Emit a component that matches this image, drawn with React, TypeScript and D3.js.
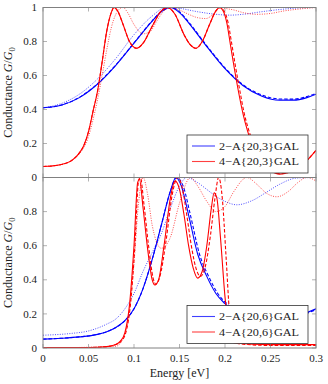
import React from 'react'
import { scaleLinear, line, curveMonotoneX } from 'd3'

type Pt = [number, number]

// energy ticks and conductance ticks
const xTicks = [0, 0.05, 0.1, 0.15, 0.2, 0.25, 0.3]
const xTickLabels = ['0', '0.05', '0.1', '0.15', '0.2', '0.25', '0.3']
const yTicks = [0, 0.2, 0.4, 0.6, 0.8, 1]
const yTickLabels = ['0', '0.2', '0.4', '0.6', '0.8', '1']

const legendTop = ['2\u2212A{20,3}GAL', '4\u2212A{20,3}GAL']
const legendBottom = ['2\u2212A{20,6}GAL', '4\u2212A{20,6}GAL']

// ---- top panel: {20,3}
const topBlueSolid: Pt[] = [
  [0, 0.41], [0.02, 0.425], [0.04, 0.47], [0.06, 0.55], [0.08, 0.66], [0.1, 0.79],
  [0.12, 0.92], [0.13, 0.975], [0.14, 1.0], [0.15, 0.97], [0.16, 0.91], [0.18, 0.77],
  [0.2, 0.64], [0.22, 0.54], [0.24, 0.48], [0.26, 0.455], [0.275, 0.455], [0.29, 0.47], [0.3, 0.49],
]
const topBlueDashed: Pt[] = [
  [0, 0.41], [0.02, 0.426], [0.04, 0.472], [0.06, 0.552], [0.08, 0.662], [0.1, 0.792],
  [0.12, 0.922], [0.13, 0.977], [0.141, 1.0], [0.15, 0.975], [0.16, 0.915], [0.18, 0.775],
  [0.2, 0.645], [0.22, 0.545], [0.24, 0.486], [0.26, 0.462], [0.275, 0.461], [0.29, 0.476], [0.3, 0.495],
]
const topBlueDotted: Pt[] = [
  [0, 0.41], [0.02, 0.435], [0.04, 0.49], [0.06, 0.58], [0.08, 0.7], [0.1, 0.84],
  [0.12, 0.95], [0.135, 1.0], [0.15, 0.995], [0.17, 0.975], [0.19, 0.96], [0.205, 0.955],
  [0.22, 0.96], [0.24, 0.975], [0.26, 0.988], [0.28, 0.997], [0.3, 1.0],
]
const topRedSolid: Pt[] = [
  [0, 0.065], [0.01, 0.068], [0.02, 0.076], [0.03, 0.095], [0.035, 0.115], [0.04, 0.145],
  [0.045, 0.19], [0.05, 0.27], [0.055, 0.39], [0.06, 0.51], [0.065, 0.68], [0.07, 0.86],
  [0.075, 0.97], [0.078, 1.0], [0.082, 0.98], [0.088, 0.9], [0.095, 0.8], [0.103, 0.76],
  [0.11, 0.79], [0.12, 0.89], [0.13, 0.98], [0.137, 1.0], [0.145, 0.96], [0.155, 0.84],
  [0.162, 0.78], [0.168, 0.76], [0.175, 0.8], [0.183, 0.9], [0.19, 0.98], [0.194, 1.0],
  [0.198, 0.98], [0.202, 0.91], [0.206, 0.78], [0.21, 0.65], [0.215, 0.5], [0.22, 0.37],
  [0.225, 0.27], [0.23, 0.19], [0.235, 0.13], [0.24, 0.09], [0.25, 0.04], [0.26, 0.02],
  [0.27, 0.03], [0.28, 0.055], [0.29, 0.1], [0.3, 0.16],
]
const topRedDashed: Pt[] = [
  [0, 0.065], [0.01, 0.068], [0.02, 0.076], [0.03, 0.095], [0.035, 0.115], [0.04, 0.145],
  [0.045, 0.19], [0.05, 0.27], [0.055, 0.39], [0.06, 0.51], [0.065, 0.68], [0.07, 0.86],
  [0.075, 0.97], [0.078, 1.0], [0.082, 0.98], [0.088, 0.9], [0.095, 0.8], [0.103, 0.76],
  [0.11, 0.79], [0.12, 0.89], [0.13, 0.98], [0.137, 1.0], [0.145, 0.96], [0.155, 0.84],
  [0.162, 0.78], [0.168, 0.76], [0.175, 0.8], [0.183, 0.9], [0.19, 0.98], [0.195, 1.0],
  [0.199, 0.98], [0.203, 0.92], [0.207, 0.8], [0.211, 0.67], [0.216, 0.52], [0.221, 0.38],
  [0.226, 0.28], [0.231, 0.2], [0.236, 0.135], [0.241, 0.095], [0.251, 0.042], [0.261, 0.022],
  [0.271, 0.032], [0.281, 0.058], [0.291, 0.105], [0.3, 0.16],
]
const topRedDotted: Pt[] = [
  [0, 0.065], [0.02, 0.076], [0.04, 0.14], [0.05, 0.24], [0.055, 0.34], [0.06, 0.46],
  [0.065, 0.6], [0.07, 0.75], [0.075, 0.88], [0.08, 0.96], [0.085, 0.995], [0.088, 1.0],
  [0.093, 0.97], [0.1, 0.9], [0.11, 0.845], [0.118, 0.86], [0.125, 0.92], [0.133, 0.98],
  [0.14, 1.0], [0.15, 0.985], [0.16, 0.96], [0.17, 0.94], [0.179, 0.935], [0.187, 0.96],
  [0.195, 1.0], [0.2, 0.995], [0.21, 0.985], [0.22, 0.97], [0.235, 0.96], [0.25, 0.965],
  [0.265, 0.98], [0.28, 0.99], [0.3, 1.0],
]

// ---- bottom panel: {20,6}
const botBlueSolid: Pt[] = [
  [0, 0.052], [0.02, 0.057], [0.04, 0.065], [0.06, 0.08], [0.07, 0.095], [0.08, 0.12],
  [0.09, 0.16], [0.1, 0.23], [0.11, 0.35], [0.12, 0.52], [0.13, 0.72], [0.14, 0.92],
  [0.146, 1.0], [0.152, 0.95], [0.16, 0.78], [0.17, 0.55], [0.18, 0.42], [0.19, 0.32],
  [0.2, 0.26], [0.21, 0.215], [0.22, 0.185], [0.24, 0.165], [0.26, 0.17], [0.28, 0.19], [0.3, 0.23],
]
const botBlueDashed: Pt[] = [
  [0, 0.052], [0.02, 0.057], [0.04, 0.065], [0.06, 0.08], [0.07, 0.095], [0.08, 0.12],
  [0.09, 0.16], [0.1, 0.23], [0.11, 0.35], [0.12, 0.52], [0.13, 0.72], [0.14, 0.92],
  [0.147, 1.0], [0.154, 0.95], [0.162, 0.78], [0.172, 0.55], [0.182, 0.42], [0.192, 0.32],
  [0.202, 0.26], [0.212, 0.215], [0.222, 0.185], [0.242, 0.165], [0.262, 0.17], [0.282, 0.19], [0.3, 0.225],
]
const botBlueDotted: Pt[] = [
  [0, 0.075], [0.03, 0.085], [0.05, 0.1], [0.07, 0.14], [0.08, 0.17], [0.09, 0.23],
  [0.1, 0.32], [0.11, 0.45], [0.12, 0.56], [0.13, 0.67], [0.14, 0.82], [0.15, 0.95],
  [0.158, 1.0], [0.17, 0.97], [0.18, 0.93], [0.19, 0.89], [0.2, 0.86], [0.213, 0.84],
  [0.23, 0.865], [0.246, 0.915], [0.26, 0.96], [0.279, 0.997], [0.3, 1.0],
]
const botRedSolid: Pt[] = [
  [0, 0.003], [0.05, 0.003], [0.07, 0.008], [0.08, 0.02], [0.085, 0.04], [0.09, 0.09],
  [0.095, 0.25], [0.1, 0.6], [0.104, 0.97], [0.106, 0.99], [0.11, 0.82], [0.115, 0.58],
  [0.12, 0.4], [0.123, 0.37], [0.127, 0.4], [0.133, 0.6], [0.14, 0.88], [0.145, 0.98],
  [0.15, 0.93], [0.155, 0.78], [0.16, 0.6], [0.165, 0.47], [0.17, 0.41], [0.175, 0.45],
  [0.18, 0.6], [0.185, 0.82], [0.188, 0.91], [0.191, 0.88], [0.195, 0.65], [0.2, 0.3],
  [0.205, 0.08], [0.21, 0.03], [0.25, 0.02], [0.3, 0.02],
]
const botRedDashed: Pt[] = [
  [0, 0.003], [0.05, 0.003], [0.07, 0.008], [0.08, 0.02], [0.086, 0.04], [0.091, 0.09],
  [0.096, 0.25], [0.101, 0.6], [0.105, 0.98], [0.107, 1.0], [0.111, 0.84], [0.116, 0.6],
  [0.121, 0.41], [0.124, 0.375], [0.128, 0.41], [0.135, 0.62], [0.142, 0.9], [0.148, 1.0],
  [0.153, 0.94], [0.158, 0.78], [0.163, 0.6], [0.168, 0.47], [0.173, 0.42], [0.178, 0.47],
  [0.184, 0.66], [0.189, 0.88], [0.193, 1.0], [0.197, 0.88], [0.201, 0.55], [0.205, 0.2],
  [0.209, 0.05], [0.215, 0.025], [0.25, 0.015], [0.3, 0.015],
]
const botRedDotted: Pt[] = [
  [0, 0.0], [0.08, 0.01], [0.09, 0.08], [0.095, 0.22], [0.1, 0.5], [0.105, 0.85],
  [0.11, 1.0], [0.115, 0.9], [0.12, 0.72], [0.13, 0.585], [0.14, 0.65], [0.15, 0.85],
  [0.162, 1.0], [0.17, 0.95], [0.18, 0.86], [0.19, 0.8], [0.2, 0.83], [0.21, 0.92],
  [0.224, 1.0], [0.235, 0.96], [0.245, 0.91], [0.257, 0.887], [0.27, 0.92], [0.28, 0.97],
  [0.29, 1.0], [0.3, 0.98],
]

const BLUE = '#0000ff'
const RED = '#ff0000'
const FRAME = '#808080'
const FONT = 'Liberation Serif'

const W = 328
const H = 384
const left = 43
const right = 316
const topY = 7.5
const midY = 177.5
const botY = 348

const x = scaleLinear().domain([0, 0.3]).range([left, right])

function Panel({ y0, y1, id, blue, red, legend, showTop }: {
  y0: number, y1: number, id: string,
  blue: Pt[][], red: Pt[][], legend: string[], showTop: boolean
}) {
  const y = scaleLinear().domain([0, 1]).range([y1, y0])
  const gen = line<Pt>().x(d => x(d[0])).y(d => y(d[1])).curve(curveMonotoneX)
  const styles = [
    { dash: undefined, op: 1, w: 1.1 },
    { dash: '3.5 2', op: 1, w: 1.1 },
    { dash: '1 1.4', op: 0.7, w: 1 },
  ]
  const lx = 187, lw = 121, ly = y1 - 42.5, lh = 38
  const ticksY = showTop ? yTicks : yTicks.slice(0, 5)
  return (
    <g>
      <clipPath id={id}>
        <rect x={left} y={y0} width={right - left} height={y1 - y0} />
      </clipPath>
      <g clipPath={`url(#${id})`}>
        {blue.map((d, i) => (
          <path key={'b' + i} d={gen(d) || ''} fill="none" stroke={BLUE}
            strokeWidth={styles[i].w} strokeDasharray={styles[i].dash} strokeOpacity={styles[i].op} />
        ))}
        {red.map((d, i) => (
          <path key={'r' + i} d={gen(d) || ''} fill="none" stroke={RED}
            strokeWidth={styles[i].w} strokeDasharray={styles[i].dash} strokeOpacity={styles[i].op} />
        ))}
      </g>
      {xTicks.map(t => (
        <g key={'xt' + t} stroke={FRAME} strokeWidth={0.6}>
          <line x1={x(t)} x2={x(t)} y1={y1} y2={y1 - 4} />
          <line x1={x(t)} x2={x(t)} y1={y0} y2={y0 + 4} />
        </g>
      ))}
      {yTicks.map(t => (
        <g key={'yt' + t} stroke={FRAME} strokeWidth={0.6}>
          <line x1={left} x2={left + 4} y1={y(t)} y2={y(t)} />
          <line x1={right} x2={right - 4} y1={y(t)} y2={y(t)} />
        </g>
      ))}
      <rect x={left} y={y0} width={right - left} height={y1 - y0} fill="none" stroke={FRAME} strokeWidth={1} />
      {ticksY.map((t, i) => (
        <text key={'yl' + t} x={37} y={y(t)} dy="0.33em" textAnchor="end"
          fontFamily={FONT} fontSize={11} fill="#222">{yTickLabels[i]}</text>
      ))}
      <text transform={`translate(12,${(y0 + y1) / 2}) rotate(-90)`} textAnchor="middle"
        fontFamily={FONT} fontSize={12} fill="#222">
        Conductance <tspan fontStyle="italic">G</tspan>/<tspan fontStyle="italic">G</tspan>
        <tspan fontSize={8.5} dy="2.5">0</tspan>
      </text>
      <rect x={lx} y={ly} width={lw} height={lh} fill="#fff" stroke="#333" strokeWidth={0.8} />
      {legend.map((s, i) => (
        <g key={s}>
          <line x1={lx + 5} x2={lx + 28} y1={ly + 11 + i * 15.5} y2={ly + 11 + i * 15.5}
            stroke={i === 0 ? BLUE : RED} strokeWidth={1.1} strokeOpacity={0.75} />
          <text x={lx + 32} y={ly + 11 + i * 15.5} dy="0.35em" fontFamily={FONT} fontSize={11}
            fill="#222" textLength={80} lengthAdjust="spacingAndGlyphs">{s}</text>
        </g>
      ))}
    </g>
  )
}

export default function App() {
  return (
    <div style={{ position: 'absolute', left: 0, top: 0 }}>
      <svg width={W} height={H} viewBox={`0 0 ${W} ${H}`} style={{ display: 'block', background: '#fff' }}>
        <Panel y0={topY} y1={midY} id="clipTop"
          blue={[topBlueSolid, topBlueDashed, topBlueDotted]}
          red={[topRedSolid, topRedDashed, topRedDotted]}
          legend={legendTop} showTop={true} />
        <Panel y0={midY} y1={botY} id="clipBot"
          blue={[botBlueSolid, botBlueDashed, botBlueDotted]}
          red={[botRedSolid, botRedDashed, botRedDotted]}
          legend={legendBottom} showTop={false} />
        {xTicks.map((t, i) => (
          <text key={'xl' + t} x={x(t)} y={361.5} textAnchor="middle"
            fontFamily={FONT} fontSize={11} fill="#222">{xTickLabels[i]}</text>
        ))}
        <text x={(left + right) / 2} y={377} textAnchor="middle" fontFamily={FONT} fontSize={12} fill="#222">
          Energy [eV]
        </text>
      </svg>
    </div>
  )
}
